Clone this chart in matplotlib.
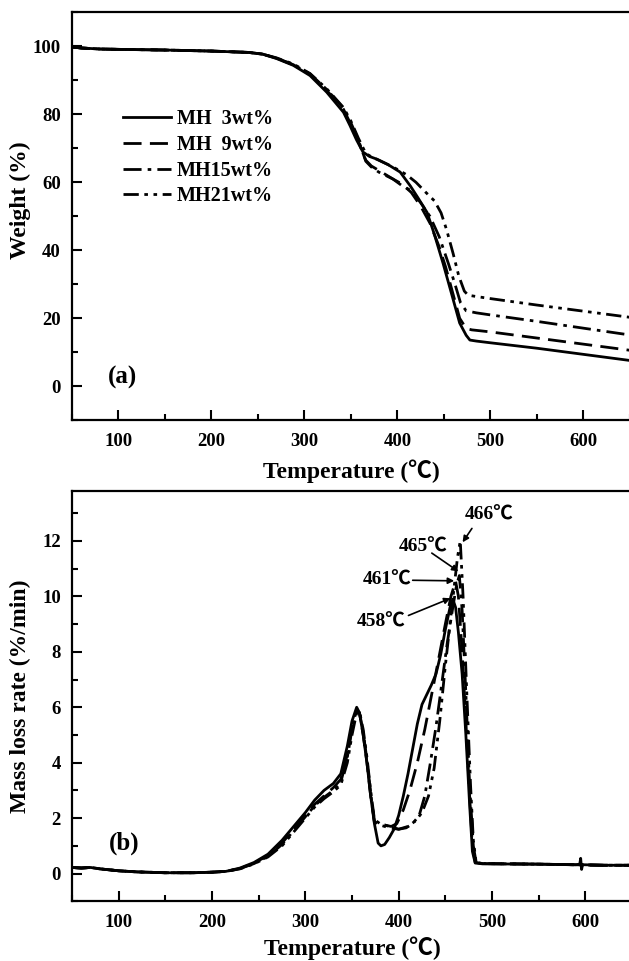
import matplotlib
matplotlib.use("Agg")
import matplotlib.pyplot as plt
from matplotlib.ticker import MultipleLocator

plt.rcParams['font.family'] = ['Liberation Serif', 'Noto Sans CJK SC']
plt.rcParams['font.weight'] = 'bold'
plt.rcParams['axes.labelweight'] = 'bold'

# ---------------- TGA data (a) ----------------
labels = ['MH  3wt%', 'MH  9wt%', 'MH15wt%', 'MH21wt%']

tga_T_3 = [50, 60, 80, 100, 150, 200, 240, 255, 270, 288, 306, 324, 342, 349, 356, 363, 370, 378, 390, 403, 414, 422, 432, 440, 449, 458, 467, 474, 478, 485, 500, 550, 600, 650]
tga_W_3 = [99.8, 99.5, 99.2, 99.1, 98.9, 98.6, 98.2, 97.7, 96.4, 94.4, 91.4, 86.5, 80.6, 76.7, 72.5, 68.9, 67.6, 66.8, 65.2, 63.0, 58.9, 55.5, 51.1, 44.5, 36.3, 27.5, 18.6, 15.0, 13.6, 13.3, 12.8, 11.2, 9.4, 7.6]

tga_T_9 = [50, 60, 80, 100, 150, 200, 240, 255, 270, 288, 306, 324, 342, 350, 358, 366, 372, 380, 395, 405, 415, 425, 435, 445, 452, 460, 467, 474, 480, 500, 550, 600, 650]
tga_W_9 = [99.8, 99.5, 99.2, 99.1, 98.9, 98.6, 98.2, 97.7, 96.5, 94.6, 91.8, 87.0, 81.5, 77.0, 72.0, 66.5, 64.8, 63.5, 61.0, 59.5, 57.0, 53.0, 48.0, 41.0, 35.0, 27.0, 20.0, 17.0, 16.6, 16.0, 14.2, 12.4, 10.6]

tga_T_15 = [50, 60, 80, 100, 150, 200, 240, 255, 270, 288, 306, 324, 342, 350, 358, 366, 372, 380, 395, 405, 415, 425, 435, 445, 455, 462, 468, 474, 485, 500, 550, 600, 650]
tga_W_15 = [99.8, 99.5, 99.2, 99.1, 98.9, 98.6, 98.2, 97.7, 96.5, 94.6, 91.9, 87.3, 81.8, 77.5, 72.5, 66.2, 64.5, 63.0, 61.0, 59.0, 57.5, 54.0, 50.0, 44.0, 36.0, 30.0, 24.5, 22.2, 21.6, 21.0, 19.1, 17.1, 15.1]

tga_T_21 = [50, 60, 80, 100, 150, 200, 240, 255, 270, 288, 306, 324, 342, 350, 358, 366, 372, 380, 390, 400, 410, 420, 430, 440, 447, 453, 460, 466, 472, 476, 485, 500, 550, 600, 650]
tga_W_21 = [99.8, 99.5, 99.2, 99.1, 98.9, 98.6, 98.2, 97.7, 96.6, 94.8, 92.0, 87.5, 82.0, 78.0, 73.0, 68.5, 67.5, 66.5, 65.2, 63.8, 62.2, 60.0, 57.2, 54.5, 51.0, 46.0, 39.0, 32.5, 28.0, 26.8, 26.4, 25.8, 23.9, 22.1, 20.3]

# ---------------- DTG data (b) ----------------
dtg_T_3 = [50, 60, 70, 80, 100, 120, 150, 180, 200, 215, 230, 245, 260, 275, 290, 300, 310, 320, 330, 338, 345, 350, 355, 358, 362, 366, 370, 374, 378, 381, 385, 390, 395, 400, 405, 410, 415, 420, 425, 430, 435, 440, 445, 450, 455, 458, 461, 464, 468, 472, 476, 479, 482, 490, 550, 590, 594, 595, 596, 597, 620, 650]
dtg_R_3 = [0.22, 0.2, 0.22, 0.17, 0.1, 0.06, 0.03, 0.03, 0.05, 0.08, 0.2, 0.4, 0.7, 1.2, 1.8, 2.2, 2.65, 3.0, 3.25, 3.6, 4.6, 5.5, 6.0, 5.8, 5.0, 4.0, 2.8, 1.8, 1.1, 1.0, 1.05, 1.3, 1.6, 2.1, 2.8, 3.6, 4.5, 5.4, 6.1, 6.45, 6.8, 7.2, 7.9, 8.8, 9.6, 9.9, 9.6, 8.7, 7.2, 5.0, 2.5, 0.8, 0.38, 0.35, 0.34, 0.32, 0.34, 0.55, 0.15, 0.32, 0.3, 0.3]

dtg_T_9 = [50, 60, 70, 80, 100, 120, 150, 180, 200, 215, 230, 245, 260, 275, 290, 300, 310, 320, 330, 338, 345, 350, 355, 358, 362, 366, 370, 374, 378, 385, 392, 398, 405, 412, 420, 428, 435, 442, 450, 456, 461, 464, 468, 472, 476, 479, 482, 490, 550, 620, 650]
dtg_R_9 = [0.22, 0.2, 0.22, 0.17, 0.1, 0.06, 0.03, 0.03, 0.05, 0.08, 0.18, 0.38, 0.65, 1.1, 1.7, 2.1, 2.5, 2.8, 3.1, 3.4, 4.3, 5.3, 5.9, 5.8, 5.0, 4.0, 2.8, 1.9, 1.75, 1.75, 1.7, 1.8, 2.3, 3.0, 4.0, 5.2, 6.4, 7.6, 9.0, 10.0, 10.55, 10.0, 8.0, 5.5, 2.8, 1.0, 0.4, 0.36, 0.34, 0.3, 0.3]

dtg_T_15 = [50, 60, 70, 80, 100, 120, 150, 180, 200, 215, 230, 245, 260, 275, 290, 300, 310, 320, 330, 338, 345, 350, 355, 358, 362, 366, 370, 374, 380, 390, 400, 408, 415, 422, 428, 434, 440, 446, 452, 458, 462, 465, 468, 472, 476, 480, 483, 490, 550, 620, 650]
dtg_R_15 = [0.22, 0.2, 0.22, 0.17, 0.1, 0.06, 0.03, 0.03, 0.05, 0.08, 0.18, 0.36, 0.62, 1.05, 1.65, 2.05, 2.45, 2.75, 3.0, 3.3, 4.2, 5.2, 5.85, 5.8, 5.1, 4.1, 2.9, 1.85, 1.75, 1.65, 1.6, 1.65, 1.8, 2.1, 2.8, 4.0, 5.3, 6.8, 8.3, 9.6, 10.4, 10.75, 9.5, 6.5, 3.2, 1.0, 0.4, 0.36, 0.34, 0.3, 0.3]

dtg_T_21 = [50, 60, 70, 80, 100, 120, 150, 180, 200, 215, 230, 245, 260, 275, 290, 300, 310, 320, 330, 338, 345, 350, 355, 358, 362, 366, 370, 374, 380, 390, 400, 410, 418, 425, 432, 438, 444, 450, 455, 460, 463, 466, 469, 473, 477, 480, 483, 490, 550, 620, 650]
dtg_R_21 = [0.22, 0.2, 0.22, 0.17, 0.1, 0.06, 0.03, 0.03, 0.05, 0.08, 0.17, 0.35, 0.6, 1.0, 1.6, 2.0, 2.4, 2.7, 2.95, 3.2, 4.0, 5.0, 5.8, 5.85, 5.2, 4.2, 3.0, 1.95, 1.8, 1.7, 1.6, 1.7, 1.9, 2.2, 2.8, 3.8, 5.5, 7.5, 9.0, 10.5, 11.4, 12.0, 10.0, 6.5, 3.2, 1.2, 0.4, 0.36, 0.34, 0.3, 0.3]

peak_labels = ['466\u2103', '465\u2103', '461\u2103', '458\u2103']

# ---------------- styles ----------------
LW = 2.0
styles = [
    dict(linestyle='-'),
    dict(dashes=(6.5, 3.0)),
    dict(dashes=(6.5, 2.2, 1.3, 2.2)),
    dict(dashes=(5.5, 2.0, 1.3, 2.0, 1.3, 2.0)),
]

fig = plt.figure(figsize=(6.29, 9.61), dpi=100)
W, H = 629.0, 961.0

def axes_px(l, r, t, b):
    return fig.add_axes([l / W, 1 - b / H, (r - l) / W, (b - t) / H])

ax1 = axes_px(72, 629.8, 12.3, 420.3)
ax2 = axes_px(72, 632.0, 491.0, 901.3)

tga = [(tga_T_3, tga_W_3), (tga_T_9, tga_W_9), (tga_T_15, tga_W_15), (tga_T_21, tga_W_21)]
dtg = [(dtg_T_3, dtg_R_3), (dtg_T_9, dtg_R_9), (dtg_T_15, dtg_R_15), (dtg_T_21, dtg_R_21)]

for (t, w), st, lab in zip(tga, styles, labels):
    ax1.plot(t, w, color='black', lw=LW, label=lab, **st)
for (t, r), st in zip(dtg, styles):
    ax2.plot(t, r, color='black', lw=LW, **st)

for ax, lp in ((ax1, 7), (ax2, 4)):
    ax.set_xlim(50, 650)
    ax.xaxis.set_major_locator(MultipleLocator(100))
    ax.xaxis.set_minor_locator(MultipleLocator(50))
    ax.tick_params(which='both', direction='in', top=False, right=False, width=1.5)
    ax.tick_params(which='major', length=7.5, labelsize=13.5)
    ax.tick_params(which='minor', length=4)
    ax.tick_params(axis='x', pad=9)
    ax.tick_params(axis='y', pad=8)
    for sp in ax.spines.values():
        sp.set_linewidth(1.6)
    ax.spines['right'].set_visible(False)
    for lbl in ax.get_xticklabels() + ax.get_yticklabels():
        lbl.set_fontweight('bold')
    ax.set_xlabel('Temperature (\u2103)', fontsize=17, fontweight='bold', labelpad=lp)

ax1.set_ylim(-10, 110)
ax1.yaxis.set_major_locator(MultipleLocator(20))
ax1.yaxis.set_minor_locator(MultipleLocator(10))
ax1.set_ylabel('Weight (%)', fontsize=17, fontweight='bold')
ax1.yaxis.set_label_coords(-0.073, 0.54)

ax2.set_ylim(-1, 13.8)
ax2.yaxis.set_major_locator(MultipleLocator(2))
ax2.yaxis.set_minor_locator(MultipleLocator(1))
ax2.set_ylabel('Mass loss rate (%/min)', fontsize=17, fontweight='bold')
ax2.yaxis.set_label_coords(-0.073, 0.5)

ax1.legend(loc='upper left', bbox_to_anchor=(0.091, 0.762), frameon=False,
           handlelength=2.4, handletextpad=0.3, labelspacing=0.28,
           borderpad=0, borderaxespad=0,
           prop=dict(size=14.5, weight='bold'))

ax1.text(89, 2.5, '(a)', fontsize=18, fontweight='bold', ha='left', va='center')
ax2.text(89, 1.1, '(b)', fontsize=18, fontweight='bold', ha='left', va='center')

# peak annotations
txt_pos = [(496.4, 12.94), (426.5, 11.78), (387.4, 10.58), (381.0, 9.07)]
tails = [(478.5, 12.45), (435.5, 11.56), (415.0, 10.58), (410.5, 9.31)]
tips = [(468.5, 11.95), (464.0, 10.9), (459.5, 10.56), (455.5, 9.93)]
for lab, p, a, b in zip(peak_labels, txt_pos, tails, tips):
    ax2.text(p[0], p[1], lab, fontsize=14, fontweight='bold', ha='center', va='center')
    ax2.annotate('', xy=b, xytext=a,
                 arrowprops=dict(arrowstyle='-|>', color='black', lw=1.2,
                                 mutation_scale=9, shrinkA=0, shrinkB=0))

fig.savefig('out.png', dpi=100)
